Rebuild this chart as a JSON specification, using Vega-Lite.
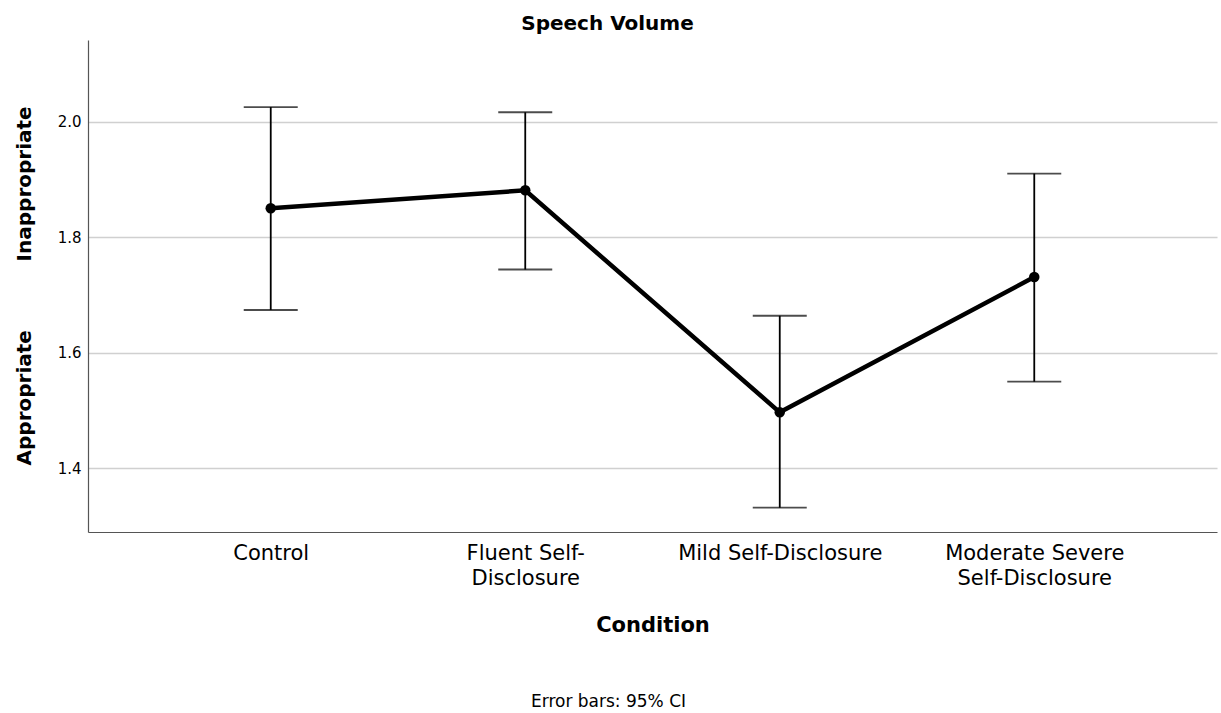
{
  "$schema": "https://vega.github.io/schema/vega-lite/v6.json",
  "autosize": {"type": "none"},
  "padding": {"left": 88, "top": 40, "right": 4, "bottom": 181},
  "width": 1129,
  "height": 492,
  "background": "white",
  "config": {
    "font": "DejaVu Sans",
    "view": {"stroke": null},
    "axis": {"labelFont": "DejaVu Sans", "titleFont": "DejaVu Sans"}
  },
  "title": {
    "text": "Speech Volume",
    "font": "DejaVu Sans",
    "fontSize": 20,
    "fontWeight": "bold",
    "color": "#000",
    "dx": -45,
    "offset": 6
  },
  "data": {
    "values": [
      {"condition": "Control", "mean": 1.850, "lower": 1.674, "upper": 2.025},
      {"condition": "Fluent Self-Disclosure", "mean": 1.881, "lower": 1.744, "upper": 2.016},
      {"condition": "Mild Self-Disclosure", "mean": 1.497, "lower": 1.332, "upper": 1.664},
      {"condition": "Moderate Severe Self-Disclosure", "mean": 1.731, "lower": 1.550, "upper": 1.910}
    ]
  },
  "layer": [
    {
      "encoding": {
        "x": {
          "field": "condition",
          "type": "nominal",
          "sort": null,
          "scale": {"type": "point", "padding": 0.718},
          "axis": {
            "title": "Condition",
            "titleFontSize": 21,
            "titleFontWeight": "bold",
            "titleColor": "#000",
            "titlePadding": 26,
            "labelFontSize": 21,
            "labelColor": "#000",
            "labelAngle": 0,
            "labelPadding": 10,
            "labelLineHeight": 25,
            "labelBaseline": "top",
            "labelLimit": 400,
            "labelOverlap": false,
            "labelExpr": "datum.value == 'Fluent Self-Disclosure' ? ['Fluent Self-', 'Disclosure'] : datum.value == 'Moderate Severe Self-Disclosure' ? ['Moderate Severe', 'Self-Disclosure'] : datum.value",
            "ticks": false,
            "domainColor": "#555",
            "domainWidth": 1.2,
            "grid": false
          }
        }
      },
      "layer": [
        {
          "mark": {"type": "rule", "color": "#000", "strokeWidth": 1.8},
          "encoding": {
            "y": {
              "field": "lower",
              "type": "quantitative",
              "scale": {"domain": [1.29, 2.141], "nice": false, "zero": false},
              "axis": {
                "title": null,
                "values": [1.4, 1.6, 1.8, 2.0],
                "format": ".1f",
                "labelFontSize": 15,
                "labelColor": "#000",
                "labelPadding": 7,
                "ticks": false,
                "domainColor": "#555",
                "domainWidth": 1.2,
                "grid": true,
                "gridColor": "#d0d0d0",
                "gridWidth": 1.5
              }
            },
            "y2": {"field": "upper"}
          }
        },
        {
          "mark": {"type": "tick", "color": "#000", "size": 54, "thickness": 1.8, "orient": "horizontal"},
          "encoding": {"y": {"field": "upper", "type": "quantitative"}}
        },
        {
          "mark": {"type": "tick", "color": "#000", "size": 54, "thickness": 1.8, "orient": "horizontal"},
          "encoding": {"y": {"field": "lower", "type": "quantitative"}}
        },
        {
          "mark": {"type": "line", "color": "#000", "strokeWidth": 4.5},
          "encoding": {"y": {"field": "mean", "type": "quantitative"}}
        },
        {
          "mark": {"type": "point", "filled": true, "color": "#000", "size": 110, "opacity": 1},
          "encoding": {"y": {"field": "mean", "type": "quantitative"}}
        }
      ]
    },
    {
      "mark": {"type": "point", "opacity": 0},
      "encoding": {
        "x": {
          "field": "condition",
          "type": "nominal",
          "sort": null,
          "scale": {"type": "point", "padding": 0.718},
          "axis": {
            "orient": "bottom",
            "labels": false,
            "ticks": false,
            "domain": false,
            "grid": false,
            "title": "Error bars: 95% CI",
            "titleFontSize": 17,
            "titleFontWeight": "normal",
            "titleColor": "#000",
            "titleX": 520,
            "offset": 157
          }
        },
        "y": {
          "field": "mean",
          "type": "quantitative",
          "scale": {"domain": [1.29, 2.141], "nice": false, "zero": false},
          "axis": {
            "orient": "left",
            "values": [1.523, 1.893],
            "labelExpr": "datum.value < 1.7 ? 'Appropriate' : 'Inappropriate'",
            "labelAngle": -90,
            "labelAlign": "center",
            "labelBaseline": "middle",
            "labelFontSize": 20,
            "labelFontWeight": "bold",
            "labelColor": "#000",
            "labelPadding": 2,
            "ticks": false,
            "domain": false,
            "grid": false,
            "title": null,
            "offset": 62
          }
        }
      }
    }
  ],
  "resolve": {"axis": {"x": "independent", "y": "independent"}}
}
